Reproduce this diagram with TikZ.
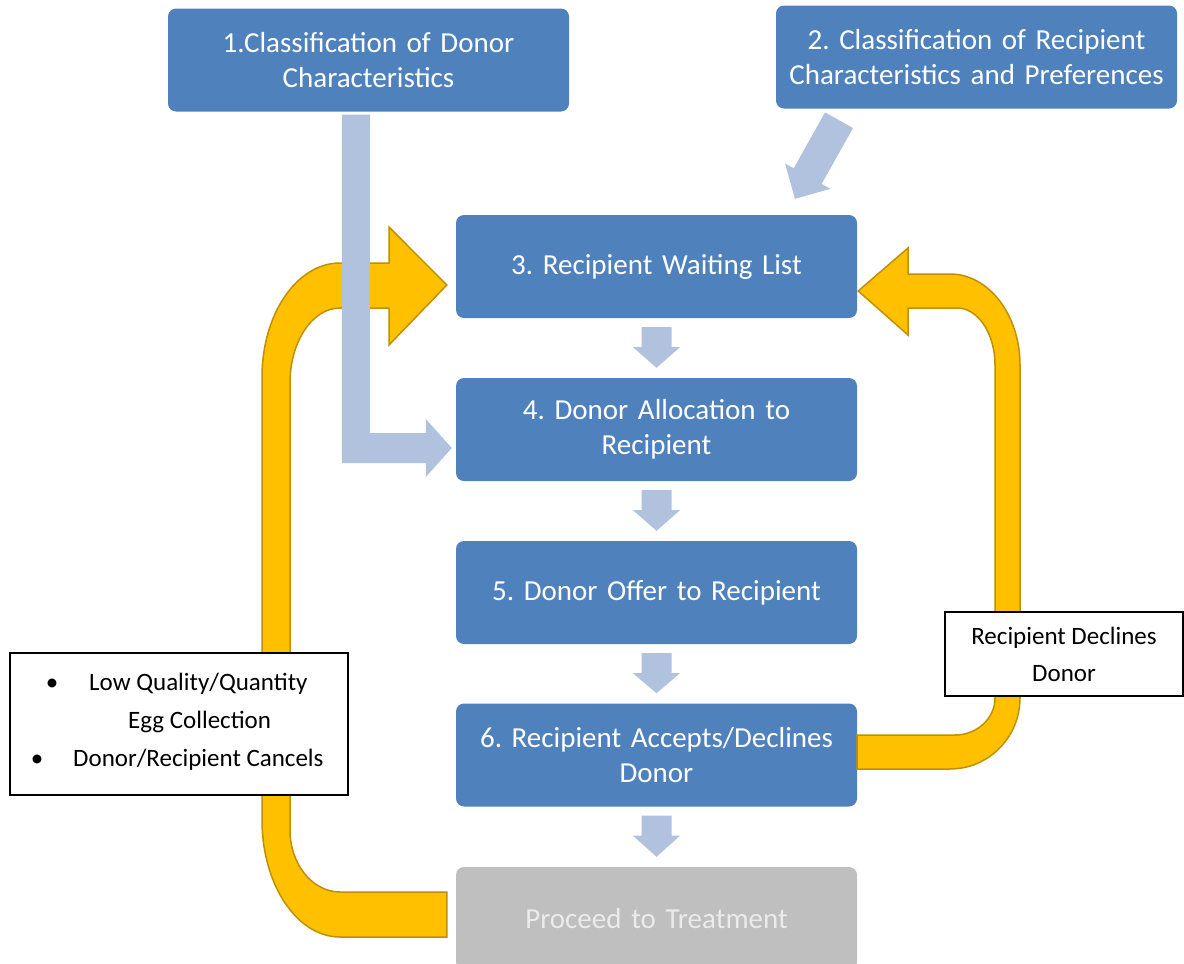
\documentclass[tikz,border=0pt]{standalone}
\usepackage{fontspec}
\setmainfont{Carlito}
\usetikzlibrary{calc}
\definecolor{boxblue}{HTML}{4F81BD}
\definecolor{paleblue}{HTML}{B0C2DE}
\definecolor{gold}{HTML}{FFC000}
\definecolor{golddark}{HTML}{BF9000}
\definecolor{greybox}{HTML}{BFBFBF}
\frenchspacing
\begin{document}
\begin{tikzpicture}[x=1pt,y=-1pt,
    stage/.style={fill=boxblue,rounded corners=8pt,minimum width=401pt,minimum height=103pt,
      text width=398pt,align=center,text=white,inner sep=0pt,font=\fontsize{29}{34.5}\selectfont},
    note/.style={draw=black,line width=1.3pt,fill=white,inner sep=0pt},
    notetext/.style={inner sep=0pt,font=\fontsize{25}{37}\selectfont},
    uturn/.style={fill=gold,draw=golddark,line width=1.5pt},
    pale/.style={fill=paleblue}]
    \useasboundingbox (0,0) rectangle (1184,964);
    % stages
    \node[stage] (b1) at (368.5,60) {1.Classification of Donor\\Characteristics};
    \node[stage] (b2) at (976.5,57) {2. Classification of Recipient\\Characteristics and Preferences};
    \node[stage] (b3) at (656.5,266.5) {3. Recipient Waiting List};
    \node[stage] (b4) at (656.5,429.5) {4. Donor Allocation to\\Recipient};
    \node[stage] (b5) at (656.5,592.5) {5. Donor Offer to Recipient};
    \node[stage] (b6) at (656.5,755) {6. Recipient Accepts/Declines\\Donor};
    \node[stage,fill=greybox,text=white!92!black] (b7) at (656.5,918.5) {Proceed to Treatment};
    % loop back on the left
    \draw[uturn] ($(b7.west)+(-9,-26.5)$) -- (340,892)
      .. controls (312.4,892) and (290,864) .. (290,830) -- (290,383)
      .. controls (290,341.6) and (312.4,308) .. (340,308) -- (389,308) -- (389,345)
      -- ($(b3.west)+(-9,18.5)$) -- (389,227) -- (389,263) -- (340,263)
      .. controls (297,263) and (262,314) .. (262,377) -- (262,820)
      .. controls (262,884.6) and (297,937) .. (340,937) -- ($(b7.west)+(-9,18.5)$) -- cycle;
    % loop back on the right
    \draw[uturn] ($(b3.east)+(1,24.5)$) -- (908,248) -- (908,274) -- (950,274)
      .. controls (988.6,274) and (1020,314.8) .. (1020,365) -- (1020,698)
      .. controls (1020,737.2) and (988.6,769) .. (950,769) -- ($(b6.east)+(0,14)$)
      -- ($(b6.east)+(0,-20)$) -- (955,735)
      .. controls (977,735) and (995,718.4) .. (995,698) -- (995,365)
      .. controls (995,333.5) and (978,308) .. (957,308) -- (908,308) -- (908,335) -- cycle;
    % small arrows down the column
    \foreach \a/\b in {b3/b4,b4/b5,b5/b6,b6/b7}
      \fill[pale] ($(\a.south)+(-15,9)$) -- ++(30,0) -- ++(0,20) -- ++(8.5,0)
        -- ($(\b.north)+(0,-10)$) -- ($(\a.south)+(-23.5,29)$) -- ++(8.5,0) -- cycle;
    % donor classification into allocation
    \fill[pale] ($(b1.south)+(-26.5,3)$) -- ($(b1.south)+(1.5,3)$) -- ($(b4.west)+(-86,3.5)$)
      -- ($(b4.west)+(-30,3.5)$) -- ($(b4.west)+(-30,-10.5)$) -- ($(b4.west)+(-4,18.5)$)
      -- ($(b4.west)+(-30,47.5)$) -- ($(b4.west)+(-30,33.5)$) -- ($(b4.west)+(-114,33.5)$) -- cycle;
    % recipient classification into waiting list
    \coordinate (t2) at ($(b2.south)+(-137.5,11.5)$);
    \coordinate (h2) at ($(b3.north)+(138.5,-16)$);
    \coordinate (hb) at ($(h2)!26pt!(t2)$);
    \fill[pale] ($(t2)!16pt!90:(h2)$) -- ($(hb)!16pt!90:(h2)$) -- ($(hb)!26pt!90:(h2)$) -- (h2)
      -- ($(hb)!26pt!-90:(h2)$) -- ($(hb)!16pt!-90:(h2)$) -- ($(t2)!16pt!-90:(h2)$) -- cycle;
    % notes
    \node[note,minimum width=338pt,minimum height=142pt] (cancel) at (179,724) {};
    \node[notetext,anchor=base] (d1) at (52,690) {\textbullet};
    \node[notetext,anchor=base west] (c1) at (89,690) {Low Quality/Quantity};
    \node[notetext,anchor=base west] (c2) at (128,728) {Egg Collection};
    \node[notetext,anchor=base] (d2) at (37,766) {\textbullet};
    \node[notetext,anchor=base west] (c3) at (73,766) {Donor/Recipient Cancels};
    \node[note,minimum width=238pt,minimum height=84pt,align=center,font=\fontsize{25}{37}\selectfont]
      (decline) at (1064,654) {Recipient Declines\\Donor};
\end{tikzpicture}
\end{document}
